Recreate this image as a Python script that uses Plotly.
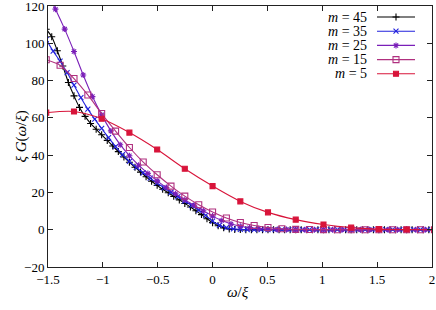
import plotly.graph_objects as go

# ---------------- data ----------------
labels = ["m = 45", "m = 35", "m = 25", "m = 15", "m = 5"]

omega_m45 = [-1.516, -1.466, -1.415, -1.365, -1.314, -1.263, -1.213, -1.162, -1.112, -1.061,
             -1.011, -0.960, -0.910, -0.859, -0.808, -0.758, -0.707, -0.657, -0.606, -0.556,
             -0.505, -0.455, -0.404, -0.354, -0.303, -0.253, -0.202, -0.152, -0.101, -0.051,
             0.000, 0.051, 0.101, 0.152, 0.202, 0.253, 0.303, 0.354, 0.404, 0.455,
             0.505, 0.556, 0.606, 0.657, 0.707, 0.758, 0.808, 0.859, 0.910, 0.960,
             1.011, 1.061, 1.112, 1.162, 1.213, 1.263, 1.314, 1.365, 1.415, 1.466,
             1.516, 1.567, 1.617, 1.668, 1.718, 1.769, 1.819, 1.870, 1.920, 1.971, 2.022]
G_m45 = [107.5, 103.5, 96.0, 87.8, 79.0, 71.8, 65.6, 60.8, 57.0, 53.9,
         50.9, 47.9, 44.9, 41.9, 39.0, 36.2, 33.5, 30.9, 28.4, 26.0,
         23.8, 21.7, 19.8, 17.9, 16.0, 14.1, 12.2, 10.2, 8.1, 5.9,
         3.8, 2.1, 1.0, 0.4, 0.15, 0.05, 0, 0, 0, 0,
         0, 0, 0, 0, 0, 0, 0, 0, 0, 0,
         0, 0, 0, 0, 0, 0, 0, 0, 0, 0,
         0, 0, 0, 0, 0, 0, 0, 0, 0, 0, 0]

omega_m35 = [-1.516, -1.453, -1.390, -1.326, -1.263, -1.200, -1.137, -1.074, -1.011, -0.948,
             -0.884, -0.821, -0.758, -0.695, -0.632, -0.569, -0.505, -0.442, -0.379, -0.316,
             -0.253, -0.190, -0.126, -0.063, 0.000, 0.063, 0.126, 0.190, 0.253, 0.316,
             0.379, 0.442, 0.505, 0.569, 0.632, 0.695, 0.758, 0.821, 0.884, 0.948,
             1.011, 1.074, 1.137, 1.200, 1.263, 1.326, 1.390, 1.453, 1.516, 1.579,
             1.642, 1.706, 1.769, 1.832, 1.895, 1.958, 2.022]
G_m35 = [102.0, 95.8, 90.4, 84.3, 77.5, 70.8, 64.7, 59.3, 54.3, 49.4,
         44.6, 40.3, 36.6, 33.4, 30.5, 27.7, 25.0, 22.5, 20.1, 17.8,
         15.4, 13.0, 10.5, 7.7, 4.6, 2.4, 1.1, 0.45, 0.15, 0.05,
         0, 0, 0, 0, 0, 0, 0, 0, 0, 0,
         0, 0, 0, 0, 0, 0, 0, 0, 0, 0,
         0, 0, 0, 0, 0, 0, 0]

omega_m25 = [-1.516, -1.432, -1.348, -1.263, -1.179, -1.095, -1.011, -0.927, -0.842, -0.758,
             -0.674, -0.590, -0.505, -0.421, -0.337, -0.253, -0.168, -0.084, 0.000, 0.084,
             0.168, 0.253, 0.337, 0.421, 0.505, 0.590, 0.674, 0.758, 0.842, 0.927,
             1.011, 1.095, 1.179, 1.263, 1.348, 1.432, 1.516, 1.600, 1.685, 1.769,
             1.853, 1.937, 2.022]
G_m25 = [128.0, 118.3, 107.6, 95.6, 83.0, 71.4, 61.6, 53.0, 45.6, 39.7,
         34.6, 30.2, 26.2, 22.6, 19.3, 16.1, 13.1, 10.2, 7.3, 4.9,
         3.1, 1.9, 1.1, 0.6, 0.3, 0.15, 0.08, 0.04, 0, 0,
         0, 0, 0, 0, 0, 0, 0, 0, 0, 0,
         0, 0, 0]

omega_m15 = [-1.516, -1.390, -1.263, -1.137, -1.011, -0.884, -0.758, -0.632, -0.505, -0.379,
             -0.253, -0.126, 0.000, 0.126, 0.253, 0.379, 0.505, 0.632, 0.758, 0.884,
             1.011, 1.137, 1.263, 1.390, 1.516, 1.642, 1.769, 1.895, 2.022]
G_m15 = [91.2, 88.2, 81.1, 72.3, 62.3, 52.9, 44.1, 36.3, 29.5, 23.4,
         18.0, 13.4, 9.5, 6.3, 3.9, 2.3, 1.2, 0.5, 0.2, 0.1,
         0.05, 0, 0, 0, 0, 0, 0, 0, 0]

omega_m5 = [-1.516, -1.263, -1.011, -0.758, -0.505, -0.253, 0.000, 0.253, 0.505, 0.758,
            1.011, 1.263, 1.516, 1.769, 2.022]
G_m5 = [62.8, 63.4, 59.5, 52.1, 43.0, 32.7, 23.4, 15.2, 9.3, 5.4,
        2.8, 1.1, 0.3, 0.1, 0.0]

x_ticks = [-1.5, -1, -0.5, 0, 0.5, 1, 1.5, 2]
y_ticks = [-20, 0, 20, 40, 60, 80, 100, 120]

# ---------------- styles ----------------
FONT = "Liberation Serif"
colors = ["#000000", "#2222dd", "#7a1fb8", "#b0307f", "#d8143a"]
symbols = ["cross-thin-open", "x-thin-open", "asterisk-open", "square-open", "square"]
msizes = [5, 5, 5, 6, 5]
series = [(omega_m45, G_m45), (omega_m35, G_m35), (omega_m25, G_m25),
          (omega_m15, G_m15), (omega_m5, G_m5)]

fig = go.Figure()
for (xs, ys), c, s, ms, lab in zip(series, colors, symbols, msizes, labels):
    fig.add_trace(go.Scatter(
        x=xs, y=ys, mode="lines+markers", name=lab,
        line=dict(color=c, width=1.1, shape="spline", smoothing=0.8),
        marker=dict(symbol=s, size=ms, color=c, line=dict(color=c, width=1.1)),
        showlegend=False, cliponaxis=True))

# ---------- manual legend (text on the left, sample on the right) ----------
# overlay axes in pixel units of the plot area
L, R, T, B = 48, 432, 6, 267
rows = [17.0, 31.2, 45.4, 59.6, 73.8]
for lab, c, s, ms, yy in zip(labels, colors, symbols, msizes, rows):
    fig.add_trace(go.Scatter(x=[377, 415], y=[yy, yy], mode="lines",
                             line=dict(color=c, width=1.1), xaxis="x2", yaxis="y2",
                             showlegend=False, hoverinfo="skip"))
    fig.add_trace(go.Scatter(x=[396], y=[yy], mode="markers",
                             marker=dict(symbol=s, size=ms, color=c, line=dict(color=c, width=1.1)),
                             xaxis="x2", yaxis="y2", showlegend=False, hoverinfo="skip"))
    num = lab.split("= ")[1]
    fig.add_annotation(x=369, y=yy, xref="x2", yref="y2", xanchor="right", yanchor="middle",
                       text="<i>m</i> = " + num, showarrow=False,
                       font=dict(family=FONT, size=14, color="#000"))

axis_common = dict(showgrid=False, zeroline=False, showline=True, linecolor="#222",
                   linewidth=1, mirror="allticks", ticks="inside", ticklen=5,
                   tickcolor="#222", tickwidth=1, ticklabeloverflow="allow",
                   automargin=False,
                   tickfont=dict(family=FONT, size=13, color="#000"))

fig.update_layout(
    width=436, height=310,
    margin=dict(l=L, r=436 - R, t=T, b=310 - B),
    paper_bgcolor="white", plot_bgcolor="white",
    xaxis=dict(range=[-1.5, 2], tickvals=x_ticks, **axis_common),
    yaxis=dict(range=[-20, 120], tickvals=y_ticks, **axis_common),
    xaxis2=dict(range=[L, R], overlaying="x", visible=False, fixedrange=True, automargin=False),
    yaxis2=dict(range=[B, T], overlaying="y", visible=False, fixedrange=True, automargin=False),
    showlegend=False,
    hovermode=False,
)

fig.add_annotation(xref="paper", yref="paper", x=(10 - L) / (R - L), y=(B - 137) / (B - T),
                   text="<i>ξ G</i>(<i>ω</i>/<i>ξ</i>)", textangle=-90, showarrow=False,
                   font=dict(family=FONT, size=15, color="#000"))
fig.add_annotation(xref="paper", yref="paper", x=(238 - L) / (R - L), y=(B - 302) / (B - T),
                   text="<i>ω</i>/<i>ξ</i>", showarrow=False,
                   font=dict(family=FONT, size=15, color="#000"))

fig.write_html("out.html",
               config={"displayModeBar": False, "staticPlot": True},
               post_script="document.body.style.margin='0';document.body.style.overflow='hidden';")
